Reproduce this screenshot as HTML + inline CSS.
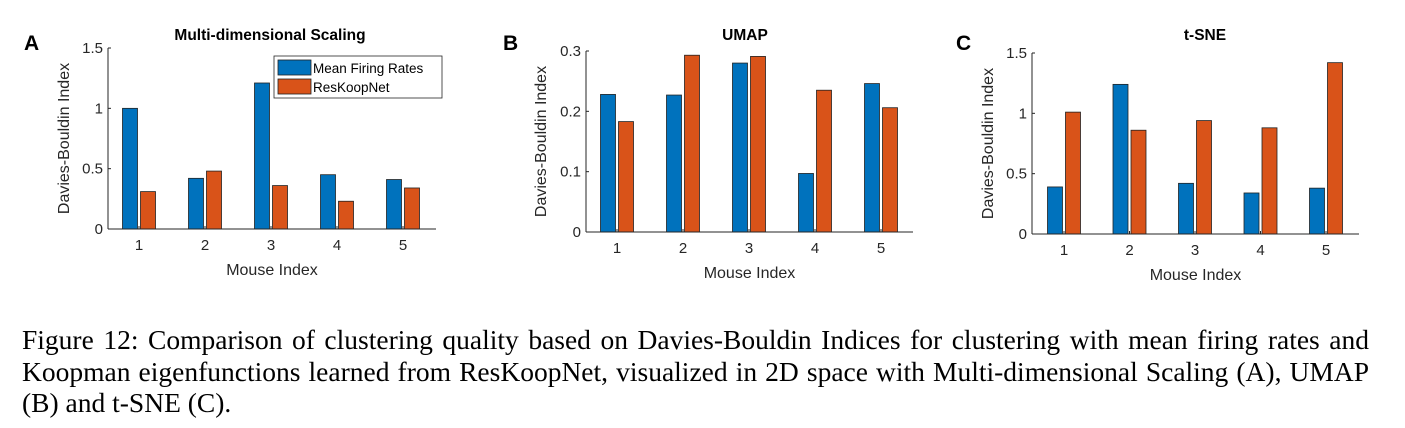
<!DOCTYPE html>
<html><head><meta charset="utf-8">
<style>
body{margin:0;background:#fff;width:1405px;height:428px;overflow:hidden;position:relative}
svg{position:absolute;left:0;top:0}
.cap{position:absolute;left:22px;top:324px;width:1347px;font-family:"Liberation Serif",serif;font-size:27.5px;line-height:31.5px;color:#000;white-space:nowrap}
.cap .j{text-align:justify;text-align-last:justify}
</style></head><body>
<svg id="fig" width="1405" height="320" font-family="Liberation Sans, sans-serif"></svg>
<div class="cap"><div class="j">Figure 12: Comparison of clustering quality based on Davies-Bouldin Indices for clustering with mean firing rates and</div><div class="j">Koopman eigenfunctions learned from ResKoopNet, visualized in 2D space with Multi-dimensional Scaling (A), UMAP</div><div>(B) and t-SNE (C).</div></div>
<script>
const categories=[1,2,3,4,5];
const mdsFiring=[1.0,0.42,1.21,0.45,0.41];
const mdsRes=[0.31,0.48,0.36,0.23,0.34];
const umapFiring=[0.228,0.227,0.28,0.097,0.246];
const umapRes=[0.183,0.293,0.291,0.235,0.206];
const tsneFiring=[0.39,1.24,0.42,0.34,0.38];
const tsneRes=[1.01,0.86,0.94,0.88,1.42];
const mdsTicks=["0","0.5","1","1.5"];const mdsTickVals=[0,0.5,1,1.5];
const umapTicks=["0","0.1","0.2","0.3"];const umapTickVals=[0,0.1,0.2,0.3];
const tsneTicks=["0","0.5","1","1.5"];const tsneTickVals=[0,0.5,1,1.5];
const NS="http://www.w3.org/2000/svg";
const svg=document.getElementById('fig');
function mk(t,a,p){const e=document.createElementNS(NS,t);for(const k in a)e.setAttribute(k,a[k]);(p||svg).appendChild(e);return e;}
function panel(o){
 const g=mk('g',{});
 
 
 const y=v=>o.y0-(v/o.ymax)*(o.y0-o.y1);
 const x=i=>o.xc1+i*o.dx;
 const lt=mk('text',{x:o.lx,y:50,'font-size':21,'font-weight':'bold',fill:'#000'},g);lt.textContent=o.letter;
 
 const tt=mk('text',{x:o.tx,y:40,'font-size':15.5,'font-weight':'bold','text-anchor':'middle',fill:'#000'},g);tt.textContent=o.title;
 
 categories.forEach((c,i)=>{
  const b1=mk('rect',{x:x(i)-16.5,y:y(o.a[i]),width:15,height:o.y0-y(o.a[i]),fill:'#0072BD',stroke:'#222','stroke-width':0.8},g);
  
  const b2=mk('rect',{x:x(i)+1.5,y:y(o.b[i]),width:15,height:o.y0-y(o.b[i]),fill:'#D95319',stroke:'#222','stroke-width':0.8},g);
  
  mk('line',{x1:x(i),x2:x(i),y1:o.y0,y2:o.y0-3,stroke:'#262626'},g);
  const tl=mk('text',{x:x(i),y:o.y0+21,'font-size':15,'text-anchor':'middle',fill:'#262626'},g);tl.textContent=c;
  
 });
 mk('line',{x1:o.ax,x2:o.ax,y1:o.y1,y2:o.y0,stroke:'#262626'},g);
 mk('line',{x1:o.ax,x2:o.xr,y1:o.y0,y2:o.y0,stroke:'#262626'},g);
 o.tv.forEach((v,i)=>{
  mk('line',{x1:o.ax,x2:o.ax+3,y1:y(v),y2:y(v),stroke:'#262626'},g);
  const t=mk('text',{x:o.ax-5,y:y(v)+5,'font-size':15,'text-anchor':'end',fill:'#262626'},g);t.textContent=o.tl[i];
  
 });
 const xl=mk('text',{x:(o.ax+o.xr)/2,y:o.y0+46,'font-size':16,'text-anchor':'middle',fill:'#262626'},g);xl.textContent='Mouse Index';
 
 const yc=(o.y0+o.y1)/2;
 const yl=mk('text',{x:o.ylx,y:yc,'font-size':16,'text-anchor':'middle',fill:'#262626',transform:`rotate(-90 ${o.ylx} ${yc})`},g);yl.textContent='Davies-Bouldin Index';
 
}
panel({id:'mds',letter:'A',lx:24,title:'Multi-dimensional Scaling',tx:270,a:mdsFiring,b:mdsRes,ymax:1.5,y0:229,y1:48,ax:108,xr:436,xc1:139,dx:66,tv:mdsTickVals,tl:mdsTicks,ylx:69});
panel({id:'umap',letter:'B',lx:503,title:'UMAP',tx:745,a:umapFiring,b:umapRes,ymax:0.3,y0:232,y1:51,ax:586,xr:913,xc1:617,dx:66,tv:umapTickVals,tl:umapTicks,ylx:546});
panel({id:'tsne',letter:'C',lx:956,title:'t-SNE',tx:1205,a:tsneFiring,b:tsneRes,ymax:1.5,y0:234,y1:53,ax:1032,xr:1359,xc1:1064,dx:65.5,tv:tsneTickVals,tl:tsneTicks,ylx:993});
const lg=mk('g',{});


mk('rect',{x:274,y:56,width:168,height:42,fill:'#fff',stroke:'#262626','stroke-width':0.8},lg);
mk('rect',{x:278,y:60,width:33,height:15,fill:'#0072BD',stroke:'#222','stroke-width':0.8},lg);
mk('rect',{x:278,y:79,width:33,height:15,fill:'#D95319',stroke:'#222','stroke-width':0.8},lg);
const e1=mk('text',{x:313,y:73,'font-size':13.5,fill:'#000'},lg);e1.textContent='Mean Firing Rates';

const e2=mk('text',{x:313,y:92,'font-size':13.5,fill:'#000'},lg);e2.textContent='ResKoopNet';

</script>
</body></html>
